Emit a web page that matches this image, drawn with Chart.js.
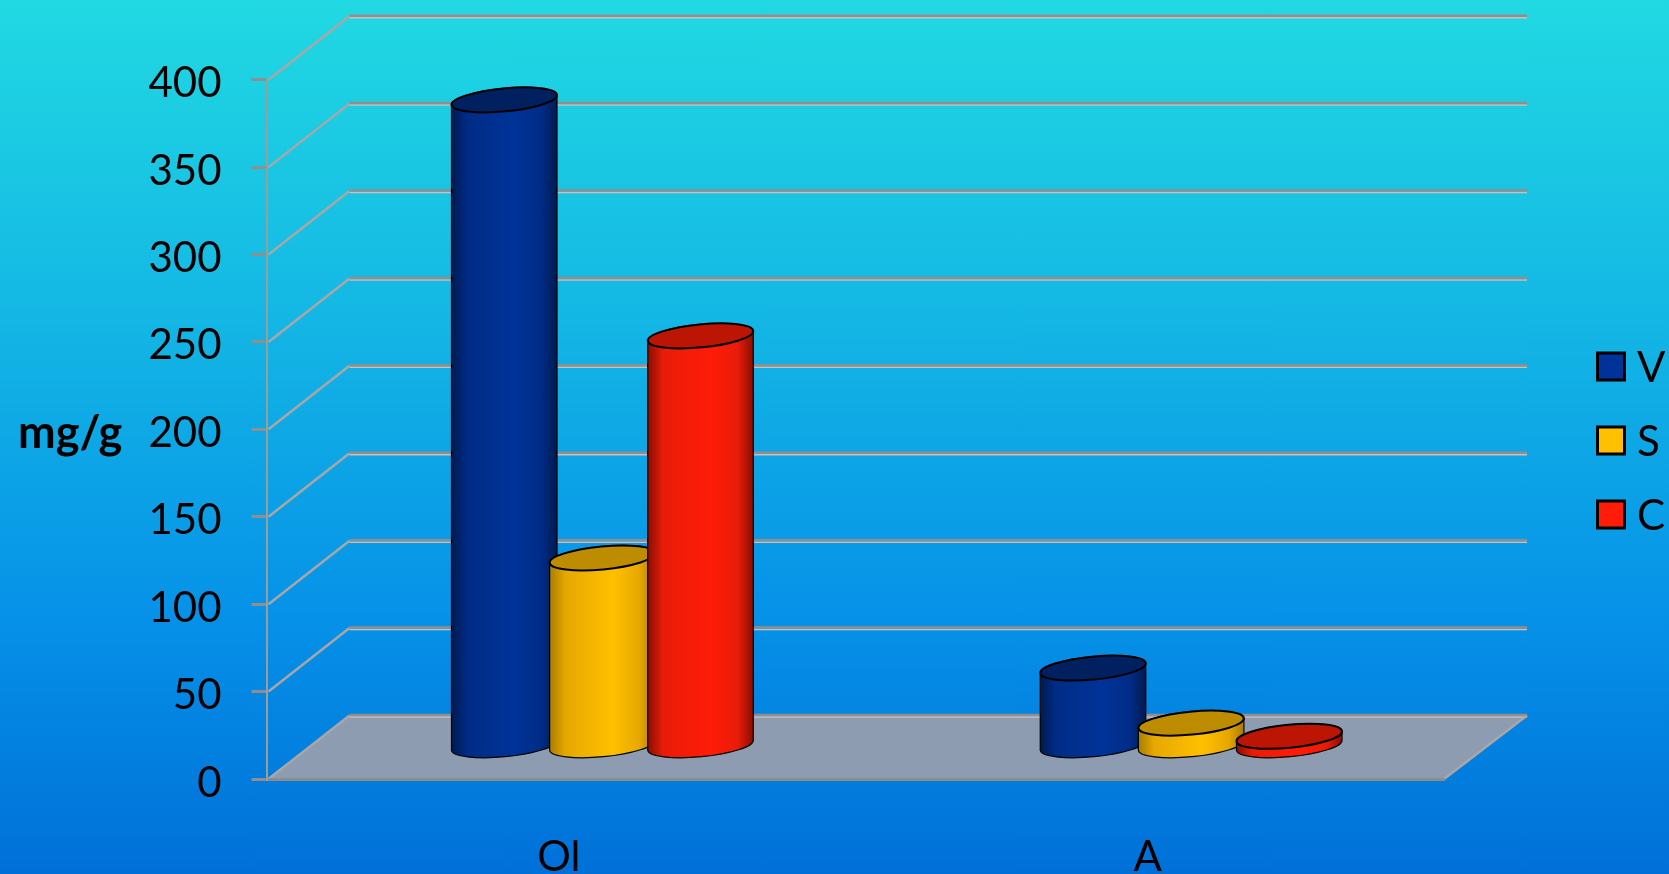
<!DOCTYPE html>
<html>
<head>
<meta charset="utf-8">
<style>
	html, body { margin: 0; padding: 0; }
	body { width: 1669px; height: 874px; overflow: hidden; background: linear-gradient(to bottom, #21d9e2 0%, #14b8e4 35%, #0692e8 70%, #0070d8 100%); }
	canvas { display: block; }
</style>
<script src="https://cdn.jsdelivr.net/npm/chart.js@4/dist/chart.umd.js"></script>
</head>
<body>
<canvas id="barChart" width="1669" height="874"></canvas>
<script>
// data
var categories = ["Ol", "A"];
var seriesV = [370, 45];
var seriesS = [108, 13.5];
var seriesC = [235, 6];
var yTicks = [0, 50, 100, 150, 200, 250, 300, 350, 400];
var yTitle = "mg/g";

var fontName = "Lato";
// back wall offset of the fake 3d box
var depthX = 83, depthY = -63.5;

var shades = {
	"#003399": { edge: "#001a4f", side: "#002c86", cap: "#00205f" },
	"#ffc000": { edge: "#a87c00", side: "#e6a800", cap: "#bd8c00" },
	"#ff1c08": { edge: "#8a0d00", side: "#e81c08", cap: "#bd1504" }
};

// the flat bars are replaced by cylinders, see cylinderPlugin
Chart.BarElement.prototype.draw = function() {};

function drawCylinder(ctx, bar) {
	var color = bar.options.backgroundColor;
	var shade = shades[color];
	var cx = bar.x + depthX / 2;
	var topY = bar.y + depthY / 2 - 0.5;
	var baseY = bar.base + depthY / 2 - 0.5;
	var rx = bar.width / 2, ry = 11.5, tilt = -0.095;

	var grad = ctx.createLinearGradient(cx - rx, 0, cx + rx, 0);
	grad.addColorStop(0, shade.edge);
	grad.addColorStop(0.15, shade.side);
	grad.addColorStop(0.6, color);
	grad.addColorStop(0.85, shade.side);
	grad.addColorStop(1, shade.edge);

	ctx.save();
	ctx.beginPath();
	ctx.ellipse(cx, baseY, rx, ry, tilt, 0, Math.PI);
	ctx.ellipse(cx, topY, rx, ry, tilt, Math.PI, Math.PI * 2);
	ctx.closePath();
	ctx.fillStyle = grad;
	ctx.fill();
	ctx.lineWidth = 1.2;
	ctx.strokeStyle = "#000";
	ctx.stroke();

	ctx.beginPath();
	ctx.ellipse(cx, topY, rx, ry, tilt, 0, Math.PI * 2);
	ctx.fillStyle = shade.cap;
	ctx.fill();
	ctx.lineWidth = 2;
	ctx.stroke();
	ctx.restore();
}

// left to right, so S sits over V and C over S
var cylinderPlugin = {
	id: "cylinders",
	afterDatasetsDraw: function(chart) {
		chart.data.datasets.forEach(function(ds, i) {
			chart.getDatasetMeta(i).data.forEach(function(bar) {
				drawCylinder(chart.ctx, bar);
			});
		});
	}
};

// floor and back wall lines, these follow the y scale
var wallPlugin = {
	id: "walls",
	beforeDraw: function(chart) {
		var ctx = chart.ctx, area = chart.chartArea, y = chart.scales.y;
		var zero = y.getPixelForValue(0);

		ctx.save();
		ctx.beginPath();
		ctx.moveTo(area.left, zero);
		ctx.lineTo(area.left + depthX, zero + depthY);
		ctx.lineTo(area.right + depthX, zero + depthY);
		ctx.lineTo(area.right, zero);
		ctx.closePath();
		ctx.fillStyle = "#8d9cb0";
		ctx.fill();

		for (var i in yTicks) {
			var py = y.getPixelForValue(yTicks[i]);
			ctx.beginPath();
			ctx.moveTo(area.left + 2, py);
			ctx.lineTo(area.left + depthX, py + depthY);
			ctx.lineWidth = 2.5;
			ctx.strokeStyle = "#aaa6a6";
			ctx.stroke();

			ctx.beginPath();
			ctx.moveTo(area.left + depthX, py + depthY + 1.5);
			ctx.lineTo(area.right + depthX, py + depthY + 1.5);
			ctx.lineWidth = 1.5;
			ctx.strokeStyle = "#c6c2c2";
			ctx.stroke();

			ctx.beginPath();
			ctx.moveTo(area.left + depthX, py + depthY - 0.5);
			ctx.lineTo(area.right + depthX, py + depthY - 0.5);
			ctx.lineWidth = 2.5;
			ctx.strokeStyle = "#938e8e";
			ctx.stroke();
		}
		// right edge of the floor
		ctx.beginPath();
		ctx.moveTo(area.right, zero);
		ctx.lineTo(area.right + depthX, zero + depthY);
		ctx.lineWidth = 2.5;
		ctx.strokeStyle = "#aaa6a6";
		ctx.stroke();
		ctx.restore();
	}
};

// horizontal axis title and the legend on the far right
var labelPlugin = {
	id: "labels",
	afterDraw: function(chart) {
		var ctx = chart.ctx;
		ctx.save();
		ctx.fillStyle = "#000";
		ctx.textBaseline = "middle";
		ctx.textAlign = "left";
		ctx.font = "bold 45px " + fontName;
		ctx.fillText(yTitle, 18, 433);

		var swatchY = [353, 427, 501];
		chart.data.datasets.forEach(function(ds, i) {
			ctx.fillStyle = ds.backgroundColor;
			ctx.fillRect(1597.5, swatchY[i], 27, 27);
			ctx.lineWidth = 3;
			ctx.strokeStyle = "#000";
			ctx.strokeRect(1597.5, swatchY[i], 27, 27);
			ctx.fillStyle = "#000";
			ctx.font = "42px " + fontName;
			ctx.fillText(ds.label, 1637, swatchY[i] + 15);
		});
		ctx.restore();
	}
};

var ctx = document.getElementById("barChart");

var barGraph = new Chart(ctx, {
	type: "bar",
	data: {
		labels: categories,
		datasets: [
			{ label: "V", data: seriesV, backgroundColor: "#003399" },
			{ label: "S", data: seriesS, backgroundColor: "#ffc000" },
			{ label: "C", data: seriesC, backgroundColor: "#ff1c08" }
		]
	},
	plugins: [wallPlugin, cylinderPlugin, labelPlugin],
	options: {
		responsive: false,
		animation: false,
		categoryPercentage: 0.5,
		barPercentage: 1.08,
		layout: { padding: { top: 79.7, right: 225, left: 0, bottom: 0 } },
		plugins: {
			legend: { display: false },
			tooltip: { enabled: false }
		},
		scales: {
			x: {
				afterFit: function(scale) { scale.height = 95; },
				grid: { display: false },
				border: { color: "#8c8c8c", width: 3 },
				ticks: { color: "#000", padding: 45, labelOffset: -2, maxRotation: 0, font: { family: fontName, size: 42 } }
			},
			y: {
				min: 0,
				max: 400,
				afterFit: function(scale) { scale.width = 266.5; },
				afterBuildTicks: function(scale) {
					scale.ticks = yTicks.map(function(v) { return { value: v }; });
				},
				grid: { drawOnChartArea: false, tickLength: 15, tickColor: "#8f8f8f", lineWidth: 3 },
				border: { color: "#9c9c9c", width: 2 },
				ticks: { color: "#000", padding: 30, labelOffset: 4, font: { family: fontName, size: 42 } }
			}
		}
	}
});
</script>
</body>
</html>
